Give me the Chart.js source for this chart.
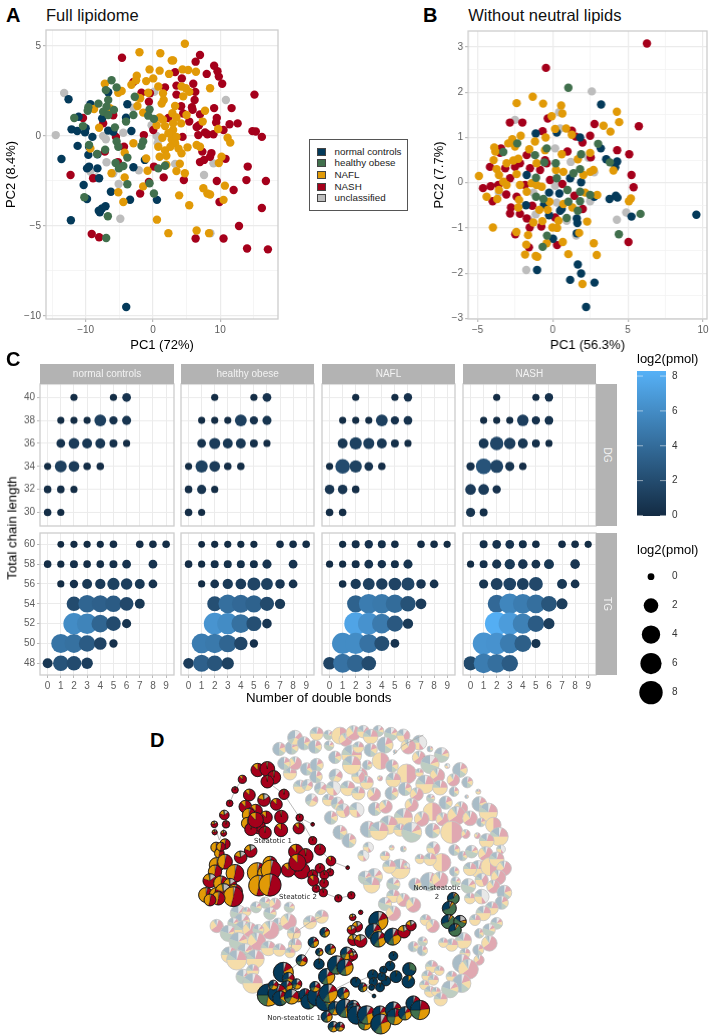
<!DOCTYPE html>
<html>
<head>
    <title>Lipidome figure</title>
    <script src="https://cdn.jsdelivr.net/npm/chart.js"></script>
    <style>
        html, body { margin: 0; padding: 0; background: #fff; }
        #page { position: relative; width: 715px; height: 1035px; overflow: hidden; font-family: "Liberation Sans", Arial, sans-serif; }
        canvas { position: absolute; }
        .txt { position: absolute; white-space: nowrap; line-height: 1; z-index: 5; }
        .strip { position: absolute; background: #b3b3b3; z-index: 2; }
    </style>
</head>
<body>
<div id="page"></div>
<script>
    var groupNames = ['normal controls', 'healthy obese', 'NAFL', 'NASH', 'unclassified'];
    var groupColors = ['#043a5a', '#41704d', '#e19a07', '#a5001b', '#bdbdbd'];

    // Panel A, full lipidome: PC1, PC2
    var fullNash = [[-4.6,4.35],[7,4.5],[6.35,4.13],[9.1,3.9],[9.6,3.6],[9.8,3.3],[10.3,2.9],[8,3.45],[3.3,3.55],[4.3,3.2],[6,2.9],[3.5,2.8],[1.8,2.7],[6.3,2.45],[3.5,2.3],[6.2,2],[15.1,2.3],[11.7,1.55],[9.1,1.55],[4.2,1.65],[5.8,1.6],[5.9,1.45],[4.5,1.25],[2.3,1],[7,1.2],[9.5,1],[9.4,.75],[5.4,.8],[6.85,.6],[6.5,.5],[11.4,.65],[12.6,.7],[14.8,.27],[15.3,.25],[16.2,-.05],[7.75,.2],[9,.1],[8.1,.1],[6.75,.05],[10.5,.33],[4.4,-.05],[7.35,-.87],[7,-1.45],[7.6,-1.33],[8.5,-1.15],[8.7,-.95],[10.8,-1.27],[14.1,-1.7],[13.9,-2.45],[16.8,-2.5],[9.5,-2.5],[12,-3],[9.9,-3.67],[16.2,-4],[12.8,-5],[6.35,-5.7],[10.5,-5.7],[14,-6.25],[17.1,-6.3],[-9.1,-5.45],[-8,-5.63],[-12.25,-2.17],[-8.9,-2.35],[-10.4,1],[-1.9,-3.2],[1.6,-2.3],[4.6,-2.45],[.15,-1.7],[-.6,-2.55],[-5.2,-1.45],[-4.3,-.6],[-5.5,-.05],[-1.35,.05],[.05,.33],[-.6,1.9],[-.45,2.37],[-1.7,2.4],[-2.9,3],[-5.9,1.15],[-7.4,.7],[-7.15,-.87]];
    var fullNafl = [[4.75,5.13],[-2,4.65],[1.1,4.6],[2.8,4.2],[3,4.2],[-.5,3.7],[1,3.63],[4.4,3.7],[5.25,3.67],[6.4,3.57],[2.4,3.45],[-2.4,3.35],[-2.5,3.1],[.05,3.2],[-1,3.05],[-3.2,2.85],[-7.15,2.9],[.8,2.75],[4.25,2.75],[4.9,2.65],[8.5,2.65],[-4.65,2.5],[-5.15,2.4],[-.7,2.4],[1.5,2.37],[5.4,2.45],[4.5,2.2],[-2.4,2.15],[-1.9,2.1],[1.6,2],[1.3,1.8],[-2.3,1.67],[3.3,1.67],[-8.75,1.5],[-6.4,1.55],[-1.45,1.3],[2.9,1.26],[5,1.17],[7.75,1.4],[1,1.03],[3.5,1.03],[1.5,.9],[7.4,.8],[3,.7],[4.2,.7],[.55,.6],[1.8,.55],[-8,.46],[3,.33],[9.7,.39],[2.9,.05],[1.4,-.1],[11.1,-.1],[11.5,-.37],[2.8,-.2],[3.3,-.4],[-2.9,-.4],[6.5,-.5],[7,-.6],[3.8,-.7],[5.15,-.63],[4.25,-.96],[-9.3,-.7],[-4.2,-.93],[1.8,-.8],[1,-1.15],[-1,-1.25],[10.2,-1.15],[9.8,-1.5],[4,-1.54],[2,-1.6],[-.8,-1.93],[3.5,-1.95],[4.75,-2.07],[-6.15,-2.07],[-4.2,-2.3],[-1.45,-2.8],[10.7,-2.76],[7.5,-2.9],[8.1,-3.2],[8.5,-3.25],[3.9,-3.3],[-5.15,-3.13],[-4.4,-3.67],[10.5,-3.55],[5.4,-3.85],[.6,-4.65],[6.5,-5.25],[2.3,-5.4],[8.35,-5.4],[3.5,-.05],[2.3,.15],[2.6,-.6],[.8,-.6],[2,-1.1]];
    var fullObese = [[-6.15,3.1],[-5.4,2.7],[-7,2.55],[-6.65,2],[-8.1,1.8],[-9.6,1.6],[-9.7,1.4],[-11.7,1],[-10.4,.55],[-7.4,1.35],[-6.65,1.17],[-5.8,1.45],[-2.9,1.17],[-4,.8],[-5.65,.48],[-.5,1.48],[.15,.95],[-.7,1.13],[-2.7,2.18],[-5.4,-.3],[-5.15,-.6],[-7.1,-.76],[-8.3,-1],[-3.8,-1.2],[-1.45,-.3],[-1.7,-.55],[-5.55,-1.5],[-4.4,-1.67],[-5.05,-1.8],[.8,-1.8],[1.8,-1.65],[-3.8,-2.68],[-.5,-2.63],[.15,-3.2],[-10.2,-3.4],[-6.7,-4.46],[-6.95,-5.67],[-9.5,-.5],[-6.9,1.63]];
    var fullNormal = [[-12.55,2.04],[-9.3,1.76],[-11.05,1.07],[-12.1,.37],[-11.25,.28],[-10.1,.2],[-10,.43],[-6.65,2.43],[-3.8,1.76],[-4,1.02],[-7.55,.98],[-3.2,.28],[-6.65,.3],[-9,-.05],[-11.2,-.55],[-9.5,-.6],[-13.6,-1.28],[-9.6,-1.05],[-8.25,-1.02],[-9.8,-1.8],[-9.5,-1.7],[-8.25,-1.8],[-2.9,-1.74],[-8,-2.35],[-10.3,-2.72],[-6.25,-3.1],[-9.8,-3.5],[-3.4,-3.54],[.6,-3.55],[-7.05,-3.9],[-7.55,-4.02],[-8.05,-4.15],[-7.9,-4.24],[-12.2,-4.68],[-3.97,-9.5],[-1.2,-1.33],[-5.9,.24]];
    var fullOther = [[-13.2,2.39],[-14.45,.05],[10.85,2],[.2,2.46],[-2.9,1.57],[-.2,.6],[.55,0],[.7,-.4],[-7.4,0],[-7,-.18],[-4.4,.18],[-6.9,-1.46],[-9.3,-1.98],[-5.9,-2.07],[-8.4,-2.3],[-2.1,-1.9],[3.3,-1.55],[-5.1,-2.67],[-4.85,-4.6],[7.6,-2.17],[9,-1.52],[8.55,-5.4]];

    // Panel B, without neutral lipids: PC1, PC2
    var polarNash = [[6.27,3.08],[-.45,2.54],[-.33,1.42],[-2.85,1.33],[-2.02,1.33],[2.78,1.3],[5.73,1.25],[-.67,1.14],[1.27,1.15],[1.53,1.02],[2.49,1.04],[1.98,.89],[4.29,.72],[5.09,.63],[.98,.69],[-1.73,.61],[-3.44,.76],[-3.51,.66],[2.53,.56],[-4.18,.35],[-3.16,.32],[-2.51,.35],[-2.18,.43],[-1.51,.32],[-.4,.43],[5.24,.17],[5.38,-.1],[-4.64,-.12],[-4.13,-.08],[-3.62,-.05],[.64,-.03],[-2.84,.1],[-3.09,-.26],[-2.4,-.31],[-4,-.41],[1.44,-.29],[-1.84,-.05],[-2.78,-.55],[-2.84,-.68],[-2.18,-.69],[-1.73,-.79],[-1.36,-.51],[2,-.58],[.16,-.77],[-1.53,-.99],[-.76,-.97],[-2.49,-1.14],[.29,-1.38],[-1.58,-1.43],[5.04,-1.31],[-.18,.06],[-.84,.28],[-.51,.5]];
    var polarNafl = [[-4.91,.15],[-2.4,1.76],[-1.33,1.9],[-.64,1.75],[.56,1.71],[.64,1.53],[-.07,1.47],[4.27,1.57],[4.42,1.34],[3.38,1.26],[3.84,1.13],[.16,1.19],[.89,1.2],[-2.13,1.04],[-2.69,.96],[-2.96,.87],[-.47,1],[1.27,1.06],[-1.18,.91],[-3.89,.78],[-3.82,.69],[-2.51,.8],[-1.56,.74],[-.51,.72],[.6,.63],[-3.93,.5],[-2.29,.53],[-2.62,.49],[-3.07,.43],[-1.07,.43],[1.67,.52],[2.49,.66],[-3.73,.3],[-3.58,.17],[-2.4,.19],[2.71,.28],[4.04,.27],[2.49,.24],[.71,.24],[.22,.28],[2.04,.17],[-3.29,.02],[-3.07,-.05],[-3.58,-.16],[-4.4,-.31],[-3.69,-.36],[-2.18,-.05],[-1.4,-.01],[-1.07,-.05],[-.73,-.09],[-1.73,-.2],[-2.24,-.38],[2.16,-.22],[2.96,-.27],[5.2,-.35],[5.07,-.41],[-.22,-.42],[.71,-.47],[1.31,-.55],[-2.29,-.55],[-.89,-.6],[-.33,-.6],[-1.29,-.88],[-.69,-.85],[.38,-.84],[2.29,-.86],[-.02,-.99],[.29,-1],[-3.98,-.99],[-2.42,-1.09],[-1.64,-1.16],[1.76,-1.11],[-1.76,-1.37],[-.4,-1.34],[.67,-1.31],[2.73,-1.34],[-1.84,-1.59],[-1.13,-1.62],[-1.02,-1.64],[1.04,-1.58],[2.93,-1.6],[1.98,-2.24]];
    var polarObese = [[1.04,2.1],[3.02,.86],[3.8,.45],[-2.36,.87],[-3.29,.68],[-1.18,.61],[-.4,.76],[-.56,.45],[.2,.43],[1.89,.63],[1.82,.3],[1.38,.21],[.27,.1],[-1.11,.11],[1.82,-.2],[1.82,-.41],[.98,-.16],[1.04,-.42],[-.62,-.36],[-1.11,-.31],[1.67,-.62],[.93,-.78],[5.84,-.69],[4.4,-1.14],[-.38,-1.17],[-.67,-1.42],[2.49,-.27]];
    var polarNormal = [[3.22,1.73],[-1.13,1.09],[.27,1.11],[1.82,1],[3.2,.76],[3.56,.52],[4.29,.47],[4.16,.34],[1.89,.01],[1.16,.1],[-1.73,.17],[.44,-.24],[-.24,-.22],[2.76,-.31],[3.78,-.36],[4.2,-.29],[4.31,-.33],[-1.78,-.5],[-.58,-.49],[.6,-.58],[.49,-.62],[-.24,-.72],[1.6,-.79],[1.64,-.89],[5.24,-.75],[9.56,-.71],[1.6,-1.12],[.02,-1.24],[1.67,-1.81],[-1.04,-1.93],[1.89,-2.01],[1.16,-2.15],[2.78,-2.21],[2.22,-2.75]];
    var polarOther = [[2.6,2.02],[.42,1.56],[-2.51,1.39],[.49,1.2],[.16,.76],[2.38,.55],[1.2,.46],[2.76,.23],[-3.58,-.22],[-1.29,-.22],[.16,-.07],[.27,-.44],[2.49,-.41],[-1.13,-.7],[-1.62,-.8],[.93,-.84],[4.27,-.82],[4.89,-.66],[1.56,-1.17],[-1.76,-1.93]];

    // Panel C: log2(pmol) per chain length (rows) and double bonds 0-9 (columns)
    var doubleBonds = [0,1,2,3,4,5,6,7,8,9];
    var dgChains = [40,38,36,34,32,30];
    var tgChains = [60,58,56,54,52,50,48];
    var _ = null;
    var normalDG = [
        [_,_,.1,_,_,.1,.5,_,_,_],
        [_,.1,.1,.1,1.3,.4,.6,_,_,_],
        [_,.5,1,.8,.8,.3,.1,_,_,_],
        [.1,1.3,1,.2,.2,_,_,_,_,_],
        [.2,.2,.1,_,_,_,_,_,_,_],
        [.2,.1,_,_,_,_,_,_,_,_]];
    var obeseDG = [
        [_,_,.1,_,_,.1,.5,_,_,_],
        [_,.1,.1,.1,1.3,.4,.6,_,_,_],
        [_,.5,1.1,.8,.8,.3,.1,_,_,_],
        [.1,1.4,1,.2,.2,_,_,_,_,_],
        [.2,.6,.1,_,_,_,_,_,_,_],
        [.2,.1,_,_,_,_,_,_,_,_]];
    var naflDG = [
        [_,_,.1,_,_,.1,.4,_,_,_],
        [_,.1,.1,.1,1.3,.4,.5,_,_,_],
        [_,.8,1.4,1.1,.8,.3,.1,_,_,_],
        [.1,2,1.4,.5,.2,_,_,_,_,_],
        [.7,.7,.2,_,_,_,_,_,_,_],
        [.2,.2,_,_,_,_,_,_,_,_]];
    var nashDG = [
        [_,_,.1,_,_,.1,.4,_,_,_],
        [_,.1,.1,.1,1.2,.4,.5,_,_,_],
        [_,.8,1.7,1.2,.8,.3,.1,_,_,_],
        [.4,2.5,1.6,.6,.2,_,_,_,_,_],
        [1,1,.4,_,_,_,_,_,_,_],
        [.6,.3,_,_,_,_,_,_,_,_]];
    var normalTG = [
        [_,0,.1,.1,.1,.2,_,.2,.2,.2],
        [.2,.1,.3,.2,.2,.3,.5,_,.5,_],
        [_,.1,.4,.8,.9,1.4,1.2,.8,.5,_],
        [_,_,2,3.6,3.3,3,1.8,.8,_,_],
        [_,_,6,5.5,3.6,2,.6,_,_,_],
        [_,4.5,4.3,3,1.5,.4,_,_,_,_],
        [.8,2.5,2,1.2,_,_,_,_,_,_]];
    var obeseTG = [
        [_,0,.1,.1,.1,.1,_,.2,.2,.2],
        [.2,.1,.3,.3,.3,.3,.6,_,.5,_],
        [_,.1,.5,.9,1,1.6,1.3,.7,.5,_],
        [_,_,2.2,4.2,3.8,3.4,1.9,.9,_,_],
        [_,_,6.5,6,4.3,2.2,.7,_,_,_],
        [_,5,4.8,3.6,1.7,.4,_,_,_,_],
        [1,3.3,2.6,1.4,_,_,_,_,_,_]];
    var naflTG = [
        [_,.1,.3,.4,.3,.2,_,.2,.2,.1],
        [.1,.1,.3,.5,.4,.3,.6,_,_,_],
        [_,.2,.9,1.3,1.2,1.5,1.6,.7,.5,_],
        [_,_,3.4,5,4.8,4,2.4,1,_,_],
        [_,_,7.5,6.4,4.9,2.8,.9,_,_,_],
        [_,6,6,4.4,2.2,.5,_,_,_,_],
        [1.5,4.4,3.6,2,_,_,_,_,_,_]];
    var nashTG = [
        [_,.3,.5,.5,.3,.2,_,.2,.2,.1],
        [.1,.3,.6,.9,.7,.5,.8,_,.7,_],
        [_,.6,1.3,1.5,1.3,1.8,_,.8,.5,_],
        [_,_,3.8,5.6,5,4.2,2.6,1.1,_,_],
        [_,_,8.1,7,5.3,3,1.1,_,_,_],
        [_,6.5,6.4,5,3.2,.6,_,_,_,_],
        [1.9,5,4.2,3,_,_,_,_,_,_]];
    var sizeLegendValues = [0,2,4,6,8];
    var colorLegendValues = [0,2,4,6,8];

    // Panel D: pie mix is [unclassified, NASH, NAFL, healthy obese, normal controls]
    var pieMix = {
        a:[0,.88,.12,0,0], b:[.02,.96,.02,0,0], c:[.04,.5,.46,0,0], d:[.15,.65,.17,.03,0],
        e:[.05,.12,.18,.1,.55], f:[.08,.12,.28,.12,.4], g:[0,0,.03,.02,.95], k:[0,0,.02,.28,.7],
        l:[0,0,.1,.03,.87], h:[.05,.02,.05,.58,.3], n:[.2,.02,.08,.55,.15], m:[.03,.2,.3,.22,.25],
        i:[.12,.2,.25,.13,.3],
        p:[.1,.35,.3,.1,.15], q:[.05,.15,.15,.15,.5], r:[.05,.2,.5,.1,.15], s:[.05,.6,.25,.05,.05],
        t:[.1,.1,.1,.5,.2], u:[0,.5,.5,0,0], v:[.4,.1,.25,.1,.15]
    };
    // network nodes: layout x, layout y, node size, mix
    var fadedNodes = [
        [268,72,18,'q'],[305,68,18,'q'],[315,38,20,'i'],[342,55,18,'q'],[375,65,18,'q'],[380,26,18,'r'],[417,62,13,'t'],[415,30,13,'t'],[435,97,17,'q'],[450,32,23,'u'],[467,44,18,'s'],[485,90,27,'r'],[510,150,20,'r'],[300,145,18,'r'],[315,115,18,'s'],[282,115,17,'q'],[350,132,17,'q'],[380,120,18,'q'],[437,152,18,'i'],[330,185,18,'r'],[378,155,17,'q'],[352,180,15,'i'],[365,225,17,'i'],[392,190,17,'i'],[415,225,16,'r'],[430,190,20,'v'],[473,190,20,'r'],[442,235,17,'i'],[460,257,19,'p'],[495,255,14,'r'],[423,278,18,'q'],[450,322,19,'q'],[477,347,19,'q'],
        [490,24,20,'s'],[520,20,17,'p'],[565,18,15,'t'],[542,35,20,'r'],[603,27,18,'t'],[640,32,18,'p'],[688,53,20,'v'],[655,65,20,'s'],[585,60,22,'q'],[542,75,18,'q'],[505,67,15,'r'],[615,80,5,'q'],[720,72,8,'q'],[755,90,20,'t'],[687,98,18,'s'],[720,118,25,'t'],[572,108,23,'u'],[606,123,17,'q'],[532,120,13,'q'],[772,123,7,'v'],[810,135,20,'q'],[650,147,27,'u'],[688,143,11,'r'],[742,152,20,'s'],[790,165,17,'s'],[832,172,15,'q'],[570,160,7,'s'],[610,165,20,'r'],[705,178,25,'r'],[750,188,20,'r'],[530,173,18,'r'],[505,155,18,'p'],[645,192,18,'q'],[485,120,25,'r'],[505,205,18,'r'],[552,208,18,'s'],[605,205,18,'q'],[680,208,18,'s'],[792,200,13,'q'],[865,200,7,'r'],[830,215,5,'q'],[722,220,11,'t'],[767,233,18,'q'],[868,237,20,'q'],[895,262,25,'r'],[500,255,20,'v'],[555,252,18,'q'],[587,245,18,'s'],[665,240,18,'s'],[727,260,25,'u'],[813,250,18,'s'],[695,282,20,'s'],[758,283,18,'s'],[800,272,25,'s'],[840,280,20,'s'],[873,292,12,'q'],[910,300,21,'u'],[640,278,25,'r'],[595,300,25,'r'],[535,313,22,'q'],[567,318,25,'r'],[630,315,17,'r'],[665,322,27,'t'],[728,317,20,'q'],[785,322,30,'u'],[927,335,25,'r'],[827,327,12,'s'],[862,332,8,'s'],[890,348,20,'r'],[535,367,14,'v'],[520,392,15,'v'],[605,368,7,'r'],[640,372,8,'q'],[585,393,13,'r'],[730,370,18,'p'],[690,402,13,'r'],[755,413,25,'u'],[720,403,17,'r'],[793,375,15,'q'],[818,393,13,'q'],[845,380,17,'t'],[933,373,12,'v'],[887,387,20,'s'],[865,432,23,'r'],[900,425,25,'u'],[840,432,18,'r'],[920,403,20,'r'],[942,430,20,'s'],[875,465,18,'p'],[925,457,20,'s'],[910,485,18,'s'],[943,503,20,'q'],[835,483,20,'t'],[630,432,27,'r'],[598,425,18,'r'],[650,422,8,'v'],[793,440,13,'q'],[553,455,22,'t'],[525,458,18,'t'],[545,480,22,'r'],[610,478,18,'t'],[718,470,25,'q'],[675,478,17,'q'],[750,465,22,'s'],[797,470,13,'t'],
        [610,513,18,'r'],[585,537,18,'t'],[640,525,18,'s'],[670,540,20,'s'],[610,565,20,'s'],[840,520,15,'r'],[875,515,20,'v'],[935,533,18,'q'],[905,550,18,'r'],[880,565,20,'r'],[855,585,15,'r'],[920,595,16,'t'],[868,625,13,'q'],[897,615,17,'t'],[707,585,15,'r'],[728,603,18,'s'],[820,647,22,'r'],[898,655,21,'s'],[785,660,17,'r'],[760,653,13,'r'],[670,665,14,'q'],[698,650,13,'t'],[697,677,14,'q'],[825,685,14,'r'],[865,675,15,'q'],[867,705,14,'s'],[815,715,25,'q'],[835,733,27,'s'],[725,725,17,'r'],[748,737,13,'r'],[712,753,15,'r'],[730,765,14,'r'],[785,755,15,'r'],[815,775,25,'q'],[780,793,23,'t'],[703,780,13,'r'],[720,800,15,'r'],[738,800,12,'r'],[752,823,18,'r'],
        [80,603,18,'s'],[225,533,15,'t'],[198,547,15,'t'],[255,537,16,'s'],[298,547,14,'t'],[360,592,18,'r'],[395,575,18,'r'],[145,565,22,'t'],[170,560,12,'r'],[240,565,17,'t'],[155,590,22,'t'],[130,595,15,'t'],[265,598,17,'t'],[295,590,22,'s'],[312,625,18,'r'],[115,625,22,'t'],[160,615,25,'r'],[180,615,20,'s'],[240,615,25,'s'],[205,615,15,'t'],[315,660,18,'r'],[300,683,14,'r'],[145,650,25,'t'],[200,650,25,'s'],[235,670,20,'r'],[268,675,17,'r'],[118,690,22,'r'],[165,680,22,'t'],[195,702,25,'r'],[140,705,27,'r'],[160,755,20,'t'],[188,737,17,'r'],[188,775,27,'r']
    ];
    var steatoticNodes = [
        [203,135,18,'a'],[232,132,20,'b'],[252,157,18,'b'],[232,170,17,'b'],[157,163,11,'a'],[135,195,9,'b'],[119,235,9,'b'],[178,210,16,'a'],[222,225,17,'d'],[259,238,16,'a'],[282,208,14,'b'],[166,245,17,'a'],[197,258,18,'a'],[177,270,18,'c'],[172,295,16,'c'],[228,277,17,'a'],[205,305,19,'b'],[183,313,17,'b'],[225,323,17,'b'],[197,285,21,'a'],[274,276,18,'b'],[273,315,18,'a'],[326,310,15,'a'],[329,278,10,'b'],[368,298,5,'b'],[368,347,11,'b'],[103,270,13,'d'],[108,298,10,'b'],[73,298,9,'d'],[74,322,7,'d'],[101,325,8,'d'],[78,367,14,'c'],[105,357,14,'c'],[88,385,13,'c'],[93,365,12,'c'],[182,378,17,'d'],[152,397,17,'d'],[390,374,15,'b'],[423,408,13,'a'],[473,428,5,'b'],[318,380,20,'a'],[347,393,20,'b'],[335,437,22,'b'],[295,435,19,'a'],[322,413,23,'a'],[202,443,27,'c'],[240,415,19,'c'],[225,445,20,'c'],[243,435,27,'c'],[207,482,28,'c'],[240,480,30,'c'],[80,420,20,'c'],[105,410,20,'c'],[75,440,18,'c'],[135,445,24,'c'],[60,467,19,'d'],[93,475,20,'c'],[120,480,18,'d'],[48,510,20,'c'],[135,500,20,'c'],[80,510,20,'c'],[100,500,22,'d'],[130,515,27,'c'],[85,520,18,'c'],[60,525,16,'c'],[390,430,13,'b'],[420,442,10,'b'],[368,450,14,'b'],[370,467,15,'a'],[403,450,12,'b'],[402,475,12,'b'],[378,491,10,'b'],[400,503,11,'b'],[445,520,10,'b'],[484,511,10,'b'],
        [488,577,9,'d'],[512,562,6,'b'],[502,605,14,'d'],[485,615,12,'d'],[490,645,15,'d'],[512,648,17,'d'],[480,690,18,'d'],[565,588,26,'f'],[550,620,22,'f'],[565,643,21,'f'],[608,635,23,'f'],[642,620,17,'d'],[663,602,14,'d']
    ];
    var nonSteatotic2Nodes = [[790,520,16,'h'],[778,550,19,'h'],[775,590,19,'h'],[810,590,17,'n'],[795,615,17,'h']];
    var nonSteatotic1Nodes = [
        [335,706,15,'i'],[370,652,14,'f'],[404,622,13,'f'],[388,681,10,'f'],[421,673,14,'f'],[387,717,14,'g'],[280,742,27,'e'],[295,760,16,'i'],[320,777,14,'i'],[325,815,14,'i'],[290,785,16,'f'],[235,810,30,'m'],[262,805,25,'e'],[250,780,13,'i'],[270,820,20,'e'],[305,815,20,'i'],[345,810,17,'e'],[355,830,20,'e'],[380,815,25,'e'],[405,830,25,'e'],[410,755,22,'f'],[375,785,14,'i'],[415,805,25,'f'],[440,720,25,'f'],[465,727,22,'f'],[470,685,17,'i'],[490,693,11,'d'],[460,805,16,'f'],[495,770,12,'f'],
        [610,693,12,'g'],[600,723,13,'g'],[580,735,10,'g'],[548,750,14,'g'],[658,733,18,'k'],[618,755,16,'g'],[655,770,17,'l'],[588,768,13,'g'],[575,755,11,'g'],[550,770,11,'g'],[570,787,12,'g'],[545,787,8,'g'],[498,772,13,'g'],[518,787,12,'f'],[552,813,5,'g'],
        [410,875,15,'f'],[430,905,14,'i'],[450,905,12,'i'],[435,850,18,'i'],[465,850,25,'f'],[490,845,17,'i'],[490,855,17,'i'],[500,870,25,'e'],[525,895,18,'m'],[530,870,25,'f'],[570,865,20,'f'],[572,897,27,'f'],[610,855,22,'f'],[615,875,22,'m'],[645,865,18,'f'],[670,835,20,'e'],[690,855,26,'m']
    ];
    var networkEdges = [
        [[232,170],[282,208],[329,278],[368,298]],[[329,278],[326,310]],[[329,278],[368,347],[390,374],[423,408],[473,428]],
        [[423,408],[420,442],[390,430]],[[157,163],[135,195],[119,235]],[[108,298],[88,345]],[[73,298],[88,345]],[[282,208],[259,238]],
        [[400,503],[445,520],[484,511]],[[300,735],[335,706],[370,652]],[[388,681],[387,717],[415,760]],[[498,772],[548,750]],[[498,772],[552,813]],[[518,787],[550,770]],[[480,770],[440,790]],
        [[700,30],[640,60],[610,90]],[[360,592],[312,625],[300,683]],[[395,575],[360,592]]
    ];

    var tickGray = '#5c5c5c', majorGrid = '#ebebeb', minorGrid = '#f3f3f3', panelEdge = '#cdcdcd';
    var page = document.getElementById('page');
    Chart.defaults.font.family = '"Liberation Sans", Arial, sans-serif';
    Chart.defaults.animation = false;

    function addText(str, x, y, size, opts) {
        opts = opts || {};
        var el = document.createElement('div');
        el.className = 'txt';
        el.textContent = str;
        el.style.left = x + 'px';
        el.style.top = y + 'px';
        el.style.fontSize = size + 'px';
        el.style.color = opts.color || '#000';
        if (opts.bold) el.style.fontWeight = 'bold';
        if (opts.family) el.style.fontFamily = opts.family;
        var shift = opts.left ? 'translate(0,-50%)' : 'translate(-50%,-50%)';
        el.style.transform = shift + (opts.rotate ? ' rotate(' + opts.rotate + 'deg)' : '');
        page.appendChild(el);
    }

    // draws the panel frame
    var framePlugin = {
        id: 'frame',
        afterDraw: function (chart) {
            var a = chart.chartArea, c = chart.ctx;
            c.save();
            c.strokeStyle = panelEdge;
            c.lineWidth = 1.3;
            c.strokeRect(a.left, a.top, a.right - a.left, a.bottom - a.top);
            c.restore();
        }
    };

    function noScalePadding(s) {
        s.paddingLeft = s.paddingRight = s.paddingTop = s.paddingBottom = 0;
    }

    // box holds the plot area in page pixels, ml/mr/mt/mb the room around it for the axes
    function addChart(box, config) {
        var ml = box.ml || 0, mr = box.mr || 0, mt = box.mt || 0, mb = box.mb || 0;
        var canvas = document.createElement('canvas');
        var w = box.r - box.l + ml + mr, h = box.b - box.t + mt + mb;
        canvas.width = w;
        canvas.height = h;
        canvas.style.left = (box.l - ml) + 'px';
        canvas.style.top = (box.t - mt) + 'px';
        canvas.style.width = w + 'px';
        canvas.style.height = h + 'px';
        page.appendChild(canvas);
        var o = config.options;
        o.responsive = false;
        o.devicePixelRatio = 1;
        o.events = [];
        o.plugins = { legend: { display: false }, tooltip: { enabled: false } };
        var rightAxis = o.scales.y.position === 'right';
        // the plot area has to stay where box says, whatever the bubble sizes and tick labels
        o.layout = { autoPadding: false, padding: { top: mt, right: rightAxis ? 0 : mr, left: rightAxis ? ml : 0, bottom: 0 } };
        o.scales.x.afterFit = function (s) { s.height = mb; noScalePadding(s); };
        o.scales.y.afterFit = function (s) { s.width = rightAxis ? mr : ml; noScalePadding(s); };
        return new Chart(canvas.getContext('2d'), config);
    }

    function fixedTicks(values) {
        return function (s) { s.ticks = values.map(function (v) { return { value: v }; }); };
    }

    function minusLabel(v) { return String(v).replace('-', '\u2212'); }

    function pcaAxis(min, max, allTicks, labelled, title, labelOn) {
        function isLabelled(v) { return labelled.indexOf(v) >= 0; }
        function isMajor(v) { return labelOn.indexOf(v) >= 0; }
        return {
            type: 'linear', min: min, max: max,
            afterBuildTicks: fixedTicks(allTicks),
            title: { display: true, text: title, color: '#000', font: { size: 13 }, padding: 0 },
            border: { display: false },
            grid: {
                color: function (c) { return isMajor(c.tick.value) ? majorGrid : minorGrid; },
                lineWidth: function (c) { return isMajor(c.tick.value) ? 1.2 : 0.8; },
                tickColor: function (c) { return isLabelled(c.tick.value) ? '#bbbbbb' : 'rgba(0,0,0,0)'; },
                tickLength: 3
            },
            ticks: {
                color: tickGray, font: { size: 10 }, padding: 2, autoSkip: false, maxRotation: 0,
                callback: function (v) { return isLabelled(v) ? minusLabel(v) : ''; }
            }
        };
    }

    function toPoints(pairs) {
        return pairs.map(function (p) { return { x: p[0], y: p[1] }; });
    }

    function pcaChart(box, series, xAxis, yAxis) {
        // first dataset ends up on top
        var order = [1, 2, 0, 3, 4];
        addChart(box, {
            type: 'scatter',
            data: {
                datasets: order.map(function (g) {
                    return { label: groupNames[g], data: toPoints(series[g]), backgroundColor: groupColors[g], pointRadius: 4.2, borderWidth: 0 };
                })
            },
            options: { scales: { x: xAxis, y: yAxis } },
            plugins: [framePlugin]
        });
    }

    pcaChart({ l: 46, r: 278, t: 30, b: 319, ml: 42, mb: 34, mt: 2, mr: 2 },
        [fullNormal, fullObese, fullNafl, fullNash, fullOther],
        pcaAxis(-15.9, 18.6, [-15,-10,-5,0,5,10,15], [-10,0,10], 'PC1 (72%)', [-10,0,10]),
        pcaAxis(-10.17, 5.89, [-10,-7.5,-5,-2.5,0,2.5,5], [-10,-5,0,5], 'PC2 (8.4%)', [-10,-5,0,5]));

    pcaChart({ l: 468.3, r: 706.7, t: 31, b: 319, ml: 36, mb: 34, mt: 2, mr: 2 },
        [polarNormal, polarObese, polarNafl, polarNash, polarOther],
        pcaAxis(-5.63, 10.27, [-5,-2.5,0,2.5,5,7.5,10], [-5,0,5,10], 'PC1 (56.3%)', [-5,0,5,10]),
        pcaAxis(-3.015, 3.356, [-3,-2.5,-2,-1.5,-1,-.5,0,.5,1,1.5,2,2.5,3], [-3,-2,-1,0,1,2,3], 'PC2 (7.7%)', [-3,-2,-1,0,1,2,3]));

    addText('A', 6, 15, 20, { left: true, bold: true });
    addText('B', 423, 15, 20, { left: true, bold: true });
    addText('C', 6, 359, 20, { left: true, bold: true });
    addText('D', 150, 740, 20, { left: true, bold: true });
    addText('Full lipidome', 46, 15, 16.5, { left: true, color: '#111' });
    addText('Without neutral lipids', 468.3, 15, 16.5, { left: true, color: '#111' });

    // legend between panels A and B
    var legendBox = document.createElement('div');
    legendBox.style.cssText = 'position:absolute;left:309px;top:139px;width:99px;height:72px;border:1px solid #555;box-sizing:border-box;';
    page.appendChild(legendBox);
    groupNames.forEach(function (name, i) {
        var key = document.createElement('div');
        key.style.cssText = 'position:absolute;left:317px;width:7px;height:6px;border:1px solid #444;box-sizing:content-box;';
        key.style.top = (147.8 + i * 11.6) + 'px';
        key.style.background = groupColors[i];
        page.appendChild(key);
        addText(name, 334.5, 151.7 + i * 11.6, 9.8, { left: true, color: '#1a1a1a' });
    });

    // log2(pmol) to radius and colour
    var radiusSteps = [[0,3.4],[2,7.3],[4,9.2],[6,10.6],[8,11.7],[9,12.2]];
    function radiusFor(v) {
        for (var i = 1; i < radiusSteps.length; i++) {
            if (v <= radiusSteps[i][0]) {
                var a = radiusSteps[i - 1], b = radiusSteps[i];
                return a[1] + (b[1] - a[1]) * (v - a[0]) / (b[0] - a[0]);
            }
        }
        return radiusSteps[radiusSteps.length - 1][1];
    }
    function colorFor(v) {
        var t = Math.min(1, Math.max(0, v / 8.29));
        var lo = [0x13, 0x2b, 0x43], hi = [0x56, 0xb1, 0xf7];
        return 'rgb(' + lo.map(function (c, i) { return Math.round(c + (hi[i] - c) * t); }).join(',') + ')';
    }
    function cells(matrix, chains) {
        var out = [];
        matrix.forEach(function (row, r) {
            row.forEach(function (v, c) {
                if (v !== null) out.push({ x: doubleBonds[c], y: chains[r], r: radiusFor(v), v: v });
            });
        });
        return out;
    }

    function facet(box, matrix, chains, yMin, yMax, showX, showY) {
        addChart({ l: box.l, r: box.r, t: box.t, b: box.b, ml: showY ? 40 : 1, mb: showX ? 16 : 1, mr: 1, mt: 1 }, {
            type: 'bubble',
            data: {
                datasets: [{
                    data: cells(matrix, chains), borderWidth: 0,
                    backgroundColor: function (c) { return c.raw ? colorFor(c.raw.v) : '#132B43'; }
                }]
            },
            options: {
                scales: {
                    x: {
                        type: 'linear', min: -0.58, max: 9.6, afterBuildTicks: fixedTicks(doubleBonds),
                        border: { display: false },
                        grid: { color: majorGrid, lineWidth: 1, drawTicks: showX, tickColor: '#bbbbbb', tickLength: 3 },
                        ticks: { display: showX, color: tickGray, font: { size: 10 }, padding: 2, autoSkip: false, maxRotation: 0 }
                    },
                    y: {
                        type: 'linear', min: yMin, max: yMax, afterBuildTicks: fixedTicks(chains),
                        border: { display: false },
                        grid: { color: majorGrid, lineWidth: 1, drawTicks: showY, tickColor: '#bbbbbb', tickLength: 3 },
                        ticks: { display: showY, color: tickGray, font: { size: 10 }, padding: 2, autoSkip: false }
                    }
                }
            },
            plugins: [framePlugin]
        });
    }

    var facetLefts = [[40, 174], [181, 314.3], [321.7, 455.3], [462.7, 596]];
    var facetDG = [normalDG, obeseDG, naflDG, nashDG];
    var facetTG = [normalTG, obeseTG, naflTG, nashTG];
    var facetNames = ['normal controls', 'healthy obese', 'NAFL', 'NASH'];
    facetLefts.forEach(function (xs, i) {
        facet({ l: xs[0], r: xs[1], t: 384, b: 525.5 }, facetDG[i], dgChains, 28.82, 41.16, false, i === 0);
        facet({ l: xs[0], r: xs[1], t: 533, b: 675 }, facetTG[i], tgChains, 46.82, 61.14, true, i === 0);
        var strip = document.createElement('div');
        strip.className = 'strip';
        strip.style.cssText = 'left:' + xs[0] + 'px;top:363.5px;width:' + (xs[1] - xs[0]) + 'px;height:20.5px;';
        page.appendChild(strip);
        addText(facetNames[i], (xs[0] + xs[1]) / 2, 374, 10, { color: '#f2f2f2' });
    });
    [[384, 525.5, 'DG'], [533, 675, 'TG']].forEach(function (s) {
        var strip = document.createElement('div');
        strip.className = 'strip';
        strip.style.cssText = 'left:596px;top:' + s[0] + 'px;width:20.7px;height:' + (s[1] - s[0]) + 'px;';
        page.appendChild(strip);
        addText(s[2], 606.5, (s[0] + s[1]) / 2, 10, { color: '#f2f2f2', rotate: 90 });
    });
    addText('Total chain length', 12, 528, 13.3, { rotate: -90 });
    addText('Number of double bonds', 318.7, 698, 13.3);

    // colour bar
    addText('log2(pmol)', 637, 358, 13, { left: true });
    var barTicks = {
        id: 'barTicks',
        afterDatasetsDraw: function (chart) {
            var s = chart.scales.y, a = chart.chartArea, c = chart.ctx;
            c.save();
            c.strokeStyle = 'rgba(255,255,255,0.65)';
            c.lineWidth = 0.8;
            colorLegendValues.forEach(function (v) {
                var y = s.getPixelForValue(v);
                c.beginPath();
                c.moveTo(a.left, y); c.lineTo(a.left + 6, y);
                c.moveTo(a.right - 6, y); c.lineTo(a.right, y);
                c.stroke();
            });
            c.restore();
        }
    };
    addChart({ l: 637, r: 666, t: 371, b: 516, mr: 30, mt: 2, mb: 4 }, {
        type: 'bar',
        data: {
            labels: ['log2(pmol)'],
            datasets: [{
                data: [[-0.03, 8.29]], barPercentage: 1, categoryPercentage: 1, borderWidth: 0,
                backgroundColor: function (c) {
                    var a = c.chart.chartArea;
                    if (!a) return '#132B43';
                    var g = c.chart.ctx.createLinearGradient(0, a.bottom, 0, a.top);
                    g.addColorStop(0, colorFor(0));
                    g.addColorStop(1, colorFor(8.29));
                    return g;
                }
            }]
        },
        options: {
            scales: {
                x: { display: false },
                y: {
                    position: 'right', min: -0.03, max: 8.29, afterBuildTicks: fixedTicks(colorLegendValues),
                    border: { display: false }, grid: { display: false, drawTicks: false },
                    ticks: { color: '#333', font: { size: 10 }, padding: 6 }
                }
            }
        },
        plugins: [barTicks]
    });

    // size legend
    addText('log2(pmol)', 637, 549, 13, { left: true });
    addChart({ l: 636, r: 666, t: 563, b: 710, mr: 30 }, {
        type: 'bubble',
        data: {
            datasets: [{
                data: sizeLegendValues.map(function (v) { return { x: 0, y: v, r: radiusFor(v) }; }),
                backgroundColor: '#000', borderWidth: 0, clip: false
            }]
        },
        options: {
            scales: {
                x: { type: 'linear', display: false, min: -1, max: 1 },
                y: {
                    position: 'right', reverse: true, min: -0.94, max: 9.2, afterBuildTicks: fixedTicks(sizeLegendValues),
                    border: { display: false }, grid: { display: false, drawTicks: false },
                    ticks: { color: '#333', font: { size: 10 }, padding: 6 }
                }
            }
        }
    });

    // panel D: every bubble gets its pie on top
    var pieOrderColors = [groupColors[4], groupColors[3], groupColors[2], groupColors[1], groupColors[0]];
    var piePlugin = {
        id: 'pies',
        afterDatasetDraw: function (chart, args) {
            var ds = chart.data.datasets[args.index];
            if (!ds.pieAlpha) return;
            var c = chart.ctx;
            c.save();
            args.meta.data.forEach(function (el, i) {
                var raw = ds.data[i], start = -Math.PI / 2;
                c.fillStyle = '#fff';
                c.globalAlpha = 1;
                c.beginPath();
                c.arc(el.x, el.y, raw.r, 0, Math.PI * 2);
                c.fill();
                c.globalAlpha = ds.pieAlpha;
                pieMix[raw.mix].forEach(function (part, k) {
                    if (part <= 0) return;
                    var end = start + part * Math.PI * 2;
                    c.fillStyle = pieOrderColors[k];
                    c.beginPath();
                    c.moveTo(el.x, el.y);
                    c.arc(el.x, el.y, raw.r, start, end);
                    c.closePath();
                    c.fill();
                    if (ds.pieAlpha === 1) {
                        c.strokeStyle = 'rgba(0,0,0,0.75)';
                        c.lineWidth = 0.4;
                        c.stroke();
                    }
                    start = end;
                });
                c.globalAlpha = 1;
                c.strokeStyle = ds.pieEdge;
                c.lineWidth = 0.8;
                c.beginPath();
                c.arc(el.x, el.y, raw.r, 0, Math.PI * 2);
                c.stroke();
            });
            c.restore();
        }
    };

    function nodePoints(nodes) {
        return nodes.map(function (n) { return { x: n[0], y: n[1], r: n[2] / 2.7, mix: n[3] }; });
    }
    function edgePoints() {
        var out = [];
        networkEdges.forEach(function (path) {
            path.forEach(function (p) { out.push({ x: p[0], y: p[1] }); });
            out.push({ x: NaN, y: NaN });
        });
        return out;
    }
    var brightNodes = steatoticNodes.concat(nonSteatotic2Nodes, nonSteatotic1Nodes);
    // layout units are a third of a pixel; the scales leave room so top nodes are not cut
    addChart({ l: 170, r: 550, t: 705, b: 1035 }, {
        type: 'bubble',
        data: {
            datasets: [
                { data: nodePoints(brightNodes), backgroundColor: 'rgba(0,0,0,0)', borderWidth: 0, pieAlpha: 1, pieEdge: '#111', clip: false },
                { type: 'line', data: edgePoints(), borderColor: '#a8a8a8', borderWidth: 0.8, pointRadius: 0, spanGaps: false, fill: false },
                { data: nodePoints(fadedNodes), backgroundColor: 'rgba(0,0,0,0)', borderWidth: 0, pieAlpha: 0.34, pieEdge: '#c4c4c4', clip: false }
            ]
        },
        options: {
            scales: {
                x: { type: 'linear', display: false, min: -60, max: 1080 },
                y: { type: 'linear', display: false, reverse: true, min: -60, max: 930 }
            }
        },
        plugins: [piePlugin]
    });
    var nodeFont = { family: '"DejaVu Sans", sans-serif', color: '#222' };
    addText('Steatotic 1', 273, 841, 7, nodeFont);
    addText('Steatotic 2', 298, 897, 7, nodeFont);
    addText('Non-steatotic 1', 294, 1018, 7, nodeFont);
    addText('Non-steatotic', 437, 888, 7, nodeFont);
    addText('2', 437, 897, 7, nodeFont);
</script>
</body>
</html>
